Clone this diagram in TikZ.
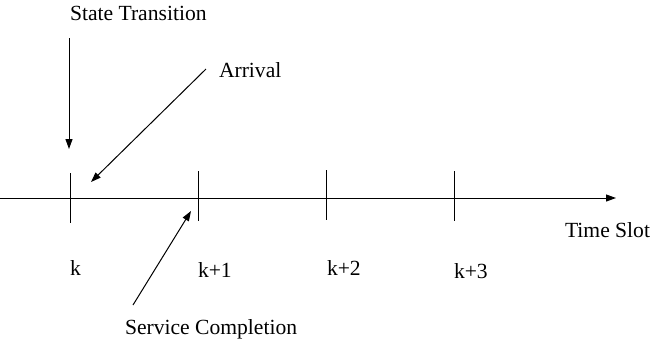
\documentclass[tikz,border=0pt]{standalone}
\usepackage{fontspec}
\setmainfont{Liberation Serif}
\usetikzlibrary{arrows.meta}
\begin{document}
\begin{tikzpicture}[x=1pt,y=-1pt,
  lbl/.style={inner sep=0pt,outer sep=0pt,anchor=base west,font=\fontsize{21.6}{25}\selectfont},
  axisline/.style={line width=1pt},
  tickline/.style={line width=1pt},
  pointer/.style={line width=1pt,-{Triangle[length=10pt,width=7pt]}}]
\useasboundingbox (0,0) rectangle (653,346);
% axis
\coordinate (a0) at (0,198);
\coordinate (a1) at (616,198);
\draw[axisline,-{Triangle[length=10pt,width=7pt]}] (a0) -- (a1);
% ticks
\coordinate (t0a) at (70,173); \coordinate (t0b) at (70,223);
\coordinate (t1a) at (198,171); \coordinate (t1b) at (198,221);
\coordinate (t2a) at (326,170); \coordinate (t2b) at (326,220);
\coordinate (t3a) at (454,171); \coordinate (t3b) at (454,221);
\draw[tickline] (t0a) -- (t0b);
\draw[tickline] (t1a) -- (t1b);
\draw[tickline] (t2a) -- (t2b);
\draw[tickline] (t3a) -- (t3b);
% labels
\node[lbl] (st) at (70,20) {State Transition};
\node[lbl] (arr) at (219,77) {Arrival};
\node[lbl] (ts) at (565,237) {Time Slot};
\node[lbl] (sc) at (125,334) {Service Completion};
\node[lbl] (k0) at (70,275) {k};
\node[lbl] (k1) at (198,277) {k+1};
\node[lbl] (k2) at (327,275) {k+2};
\node[lbl] (k3) at (454,278) {k+3};
% pointers
\coordinate (p0s) at (69,38); \coordinate (p0e) at (69,149);
\coordinate (p1s) at (206,69); \coordinate (p1e) at (91,182);
\coordinate (p2s) at (133,305); \coordinate (p2e) at (191,211);
\draw[pointer] (p0s) -- (p0e);
\draw[pointer] (p1s) -- (p1e);
\draw[pointer] (p2s) -- (p2e);
\end{tikzpicture}
\end{document}
